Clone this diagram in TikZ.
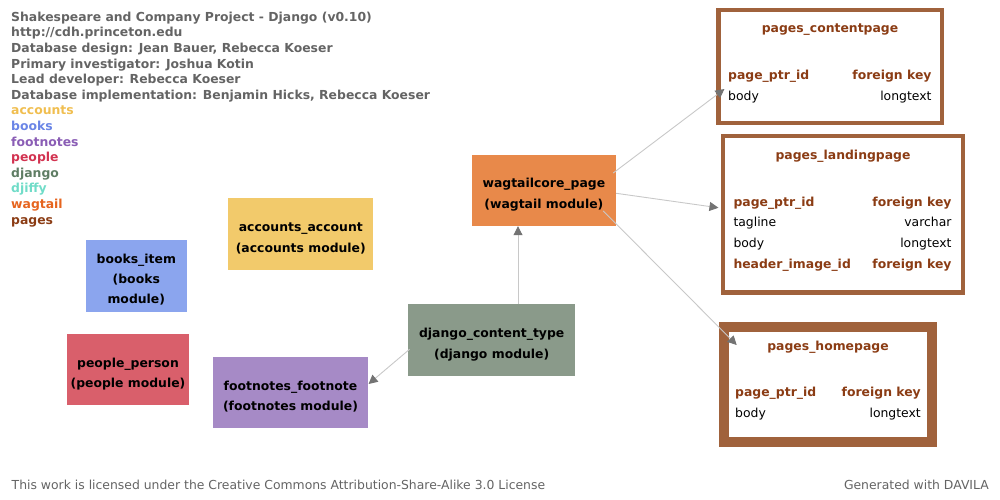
\documentclass[tikz,border=0pt]{standalone}
\usepackage{fontspec}
\setmainfont{DejaVu Sans}
\usetikzlibrary{arrows.meta,calc}
\definecolor{hdr}{HTML}{646464}
\definecolor{cacc}{HTML}{F0BE50}
\definecolor{cbook}{HTML}{6A85E6}
\definecolor{cfoot}{HTML}{8A5DB5}
\definecolor{cpeop}{HTML}{D23250}
\definecolor{cdjan}{HTML}{5F7D64}
\definecolor{cdjif}{HTML}{70DCC8}
\definecolor{cwag}{HTML}{E6641E}
\definecolor{cpage}{HTML}{8B3C14}
\definecolor{fwag}{HTML}{E8894A}
\definecolor{fdj}{HTML}{8A9A8A}
\definecolor{facc}{HTML}{F2CA6B}
\definecolor{fbook}{HTML}{8BA5EE}
\definecolor{fpeop}{HTML}{D95F6B}
\definecolor{ffoot}{HTML}{A68AC6}
\definecolor{tborder}{HTML}{A0623C}
\definecolor{linegray}{HTML}{C8C8C8}
\definecolor{tipgray}{HTML}{737373}
\tikzset{
  hdrtext/.style={anchor=base west, inner sep=0pt, font=\fontsize{12.4}{15.6}\selectfont\bfseries},
  modbox/.style={rectangle, inner sep=0pt},
  modtext/.style={inner sep=0pt, align=center, text=black,
    font=\fontsize{12.4}{20.7}\selectfont\bfseries},
  tbl/.style={rectangle, draw=tborder, fill=white, inner sep=0pt},
  ttitle/.style={anchor=base, inner sep=0pt, text=cpage, font=\fontsize{12.4}{15}\selectfont\bfseries},
  kleft/.style={anchor=base west, inner sep=0pt, text=cpage, font=\fontsize{12.4}{15}\selectfont\bfseries},
  kright/.style={anchor=base east, inner sep=0pt, text=cpage, font=\fontsize{12.4}{15}\selectfont\bfseries},
  pleft/.style={anchor=base west, inner sep=0pt, text=black, font=\fontsize{12.4}{15}\selectfont},
  pright/.style={anchor=base east, inner sep=0pt, text=black, font=\fontsize{12.4}{15}\selectfont},
  conn/.style={draw=linegray, line width=0.9pt, -{Triangle[length=9pt,width=9pt,color=tipgray]}},
  foottext/.style={inner sep=0pt, text=hdr, font=\fontsize{12.4}{15}\selectfont}
}
\begin{document}
\begin{tikzpicture}[x=1pt,y=-1pt]
\useasboundingbox (0,0) rectangle (1000,500);
% header
\node[hdrtext, text=hdr] (h1) at (11,21.3) {Shakespeare and Company Project - Django (v0.10)};
\node[hdrtext, text=hdr] (h2) at (11,36.9) {http://cdh.princeton.edu};
\node[hdrtext, text=hdr] (h3) at (11,52.5) {Database design: Jean Bauer, Rebecca Koeser};
\node[hdrtext, text=hdr] (h4) at (11,68.1) {Primary investigator: Joshua Kotin};
\node[hdrtext, text=hdr] (h5) at (11,83.7) {Lead developer: Rebecca Koeser};
\node[hdrtext, text=hdr] (h6) at (11,99.3) {Database implementation: Benjamin Hicks, Rebecca Koeser};
\node[hdrtext, text=cacc] (l1) at (11,114.9) {accounts};
\node[hdrtext, text=cbook] (l2) at (11,130.5) {books};
\node[hdrtext, text=cfoot] (l3) at (11,146.1) {footnotes};
\node[hdrtext, text=cpeop] (l4) at (11,161.7) {people};
\node[hdrtext, text=cdjan] (l5) at (11,177.3) {django};
\node[hdrtext, text=cdjif] (l6) at (11,192.9) {djiffy};
\node[hdrtext, text=cwag] (l7) at (11,208.5) {wagtail};
\node[hdrtext, text=cpage] (l8) at (11,224.1) {pages};
% module boxes
\node[modbox, fill=fwag, minimum width=144.3pt, minimum height=71pt] (wag) at (543.85,190.5) {};
\node[modtext] (wagL) at ($(wag.center)+(0,4.3)$) {wagtailcore\_page\\(wagtail module)};
\node[modbox, fill=fdj, minimum width=166.7pt, minimum height=71.7pt] (dj) at (491.7,340.2) {};
\node[modtext] (djL) at ($(dj.center)+(0,4.3)$) {django\_content\_type\\(django module)};
\node[modbox, fill=facc, minimum width=145pt, minimum height=71.7pt] (acc) at (300.8,234.2) {};
\node[modtext] (accL) at ($(acc.center)+(0,4.3)$) {accounts\_account\\(accounts module)};
\node[modbox, fill=fbook, minimum width=100.7pt, minimum height=71.7pt] (book) at (136.3,275.8) {};
\node[modtext, font=\fontsize{12.4}{20}\selectfont\bfseries] (bookL) at ($(book.center)+(0,4.3)$) {books\_item\\(books\\module)};
\node[modbox, fill=fpeop, minimum width=122.7pt, minimum height=71pt] (peop) at (128,369.5) {};
\node[modtext] (peopL) at ($(peop.center)+(0,4.5)$) {people\_person\\(people module)};
\node[modbox, fill=ffoot, minimum width=155.7pt, minimum height=71.7pt] (foot) at (290.5,392.5) {};
\node[modtext] (footL) at ($(foot.center)+(0,4)$) {footnotes\_footnote\\(footnotes module)};
% table boxes
\node[tbl, line width=4.5pt, minimum width=223.5pt, minimum height=113pt] (cont) at (830.25,66.5) {};
\node[ttitle] (contT) at (830,32.5) {pages\_contentpage};
\node[kleft] (contA1) at (728,80) {page\_ptr\_id};
\node[kright] (contB1) at (931.7,80) {foreign key};
\node[pleft] (contA2) at (728,100.7) {body};
\node[pright] (contB2) at (931.7,100.7) {longtext};

\node[tbl, line width=4.5pt, minimum width=240pt, minimum height=156.5pt] (land) at (843,214.25) {};
\node[ttitle] (landT) at (843,159.3) {pages\_landingpage};
\node[kleft] (landA1) at (733.3,206) {page\_ptr\_id};
\node[kright] (landB1) at (951.7,206) {foreign key};
\node[pleft] (landA2) at (733.3,226.9) {tagline};
\node[pright] (landB2) at (951.7,226.9) {varchar};
\node[pleft] (landA3) at (733.3,247.8) {body};
\node[pright] (landB3) at (951.7,247.8) {longtext};
\node[kleft] (landA4) at (733.3,268.7) {header\_image\_id};
\node[kright] (landB4) at (951.7,268.7) {foreign key};

\node[tbl, line width=10pt, minimum width=208.3pt, minimum height=115pt] (home) at (828.15,384.2) {};
\node[ttitle] (homeT) at (828,350.5) {pages\_homepage};
\node[kleft] (homeA1) at (735,396.9) {page\_ptr\_id};
\node[kright] (homeB1) at (921,396.9) {foreign key};
\node[pleft] (homeA2) at (735,417.6) {body};
\node[pright] (homeB2) at (921,417.6) {longtext};
% connectors
\draw[conn] ($(dj.north)+(26.3,0)$) -- ($(wag.south)+(-25.85,0)$);
\draw[conn] ($(dj.west)+(1.5,9)$) -- ($(foot.east)+(0,-8.5)$);
\draw[conn] ($(wag.east)+(-3,-17.5)$) -- ($(cont.west)+(8.2,22.5)$);
\draw[conn] ($(wag.east)+(0,2.8)$) -- ($(land.west)+(-2.3,-6.5)$);
\draw[conn] ($(wag.south east)+(-13,-15.3)$) -- ($(home.north west)+(17.7,23.3)$);
% footer
\node[foottext, anchor=base west] (lic) at (11.5,489.3) {This work is licensed under the Creative Commons Attribution-Share-Alike 3.0 License};
\node[foottext, anchor=base east] (gen) at (989,489.3) {Generated with DAVILA};
\end{tikzpicture}
\end{document}
